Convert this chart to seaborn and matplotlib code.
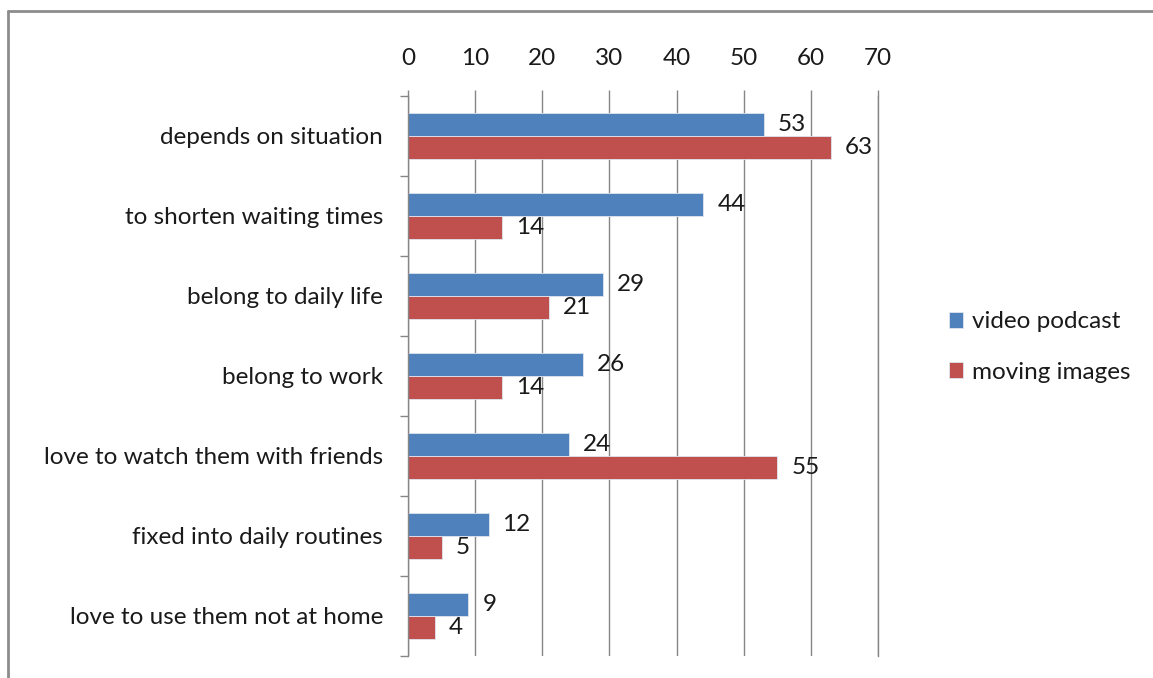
import matplotlib
matplotlib.use("Agg")
import matplotlib.pyplot as plt
import matplotlib.lines as mlines
import seaborn as sns
import pandas as pd
import numpy as np

categories = ["depends on situation", "to shorten waiting times", "belong to daily life",
              "belong to work", "love to watch them with friends",
              "fixed into daily routines", "love to use them not at home"]
video_podcast = [53, 44, 29, 26, 24, 12, 9]
moving_images = [63, 14, 21, 14, 55, 5, 4]
series_names = ["video podcast", "moving images"]
x_ticks = [0, 10, 20, 30, 40, 50, 60, 70]

df = pd.DataFrame({
    "category": categories * 2,
    "value": video_podcast + moving_images,
    "series": [series_names[0]] * len(categories) + [series_names[1]] * len(categories),
})

sns.set_style("white")
plt.rcParams["font.family"] = ["Lato", "DejaVu Sans"]
plt.rcParams["text.color"] = "#1a1a1a"
FS = 17.5

fig = plt.figure(figsize=(11.53, 6.78), dpi=100)
ax = fig.add_axes([408 / 1153, 1 - 656 / 678, 470 / 1153, 560 / 678])

palette = {"video podcast": "#4F81BD", "moving images": "#C0504D"}
sns.barplot(data=df, y="category", x="value", hue="series", order=categories,
            hue_order=series_names, palette=palette, orient="h", width=0.58,
            ax=ax, edgecolor="#dfe6f0", linewidth=0.6, saturation=1, legend=True)

for cont in ax.containers:
    ax.bar_label(cont, labels=[str(int(v)) for v in cont.datavalues], padding=10,
                 fontsize=FS, color="#1a1a1a")

ax.set_xlim(0, 70)
ax.set_ylim(len(categories) - 0.5, -0.5)
ax.set_xticks(x_ticks)
ax.xaxis.tick_top()
ax.tick_params(axis="x", top=True, bottom=False, length=4.5, width=1, color="#868686",
               pad=15, labelsize=FS, labelcolor="#1a1a1a", direction="out")
ax.set_xlabel("")
ax.set_ylabel("")
ax.grid(axis="x", color="#868686", linewidth=1)
ax.set_axisbelow(True)
ax.tick_params(axis="y", which="major", length=0, pad=18, labelsize=FS, labelcolor="#1a1a1a")
ax.set_yticks(np.arange(-0.5, len(categories), 1), minor=True)
ax.tick_params(axis="y", which="minor", left=True, length=6, width=1, color="#868686", direction="out")
for s in ["top", "bottom"]:
    ax.spines[s].set_visible(False)
for s in ["left", "right"]:
    ax.spines[s].set_color("#868686")
    ax.spines[s].set_linewidth(1)

leg = ax.legend(loc="center left", bbox_to_anchor=(927 / 1153, 1 - 347 / 678),
                bbox_transform=fig.transFigure, frameon=False, fontsize=FS,
                handlelength=0.6, handleheight=0.6, handletextpad=0.35, labelspacing=1.2)

fig.add_artist(mlines.Line2D([8 / 1153, 1], [1 - 11 / 678, 1 - 11 / 678], color="#8c8c8c",
                             linewidth=2, transform=fig.transFigure))
fig.add_artist(mlines.Line2D([8 / 1153, 8 / 1153], [0, 1 - 11 / 678], color="#8c8c8c",
                             linewidth=2, transform=fig.transFigure))

fig.savefig("out.png", dpi=100, facecolor="white")
